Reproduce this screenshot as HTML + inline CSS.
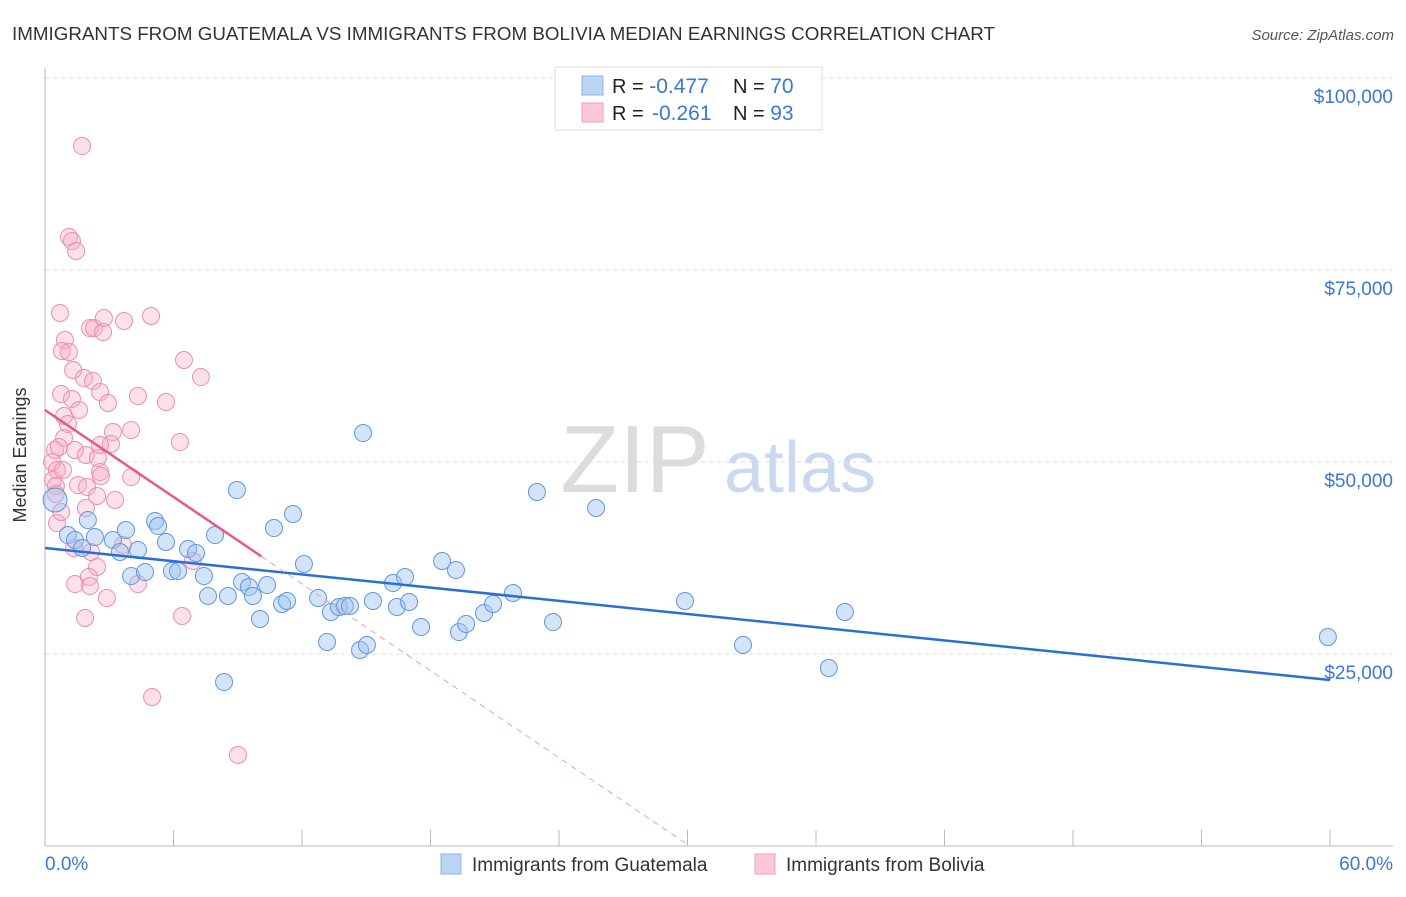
<!DOCTYPE html>
<html><head><meta charset="utf-8"><style>
body{margin:0;background:#fff;font-family:"Liberation Sans",sans-serif;}
svg text{font-family:"Liberation Sans",sans-serif;}
</style></head><body>
<svg id="chart" width="1406" height="892" viewBox="0 0 1406 892">
<text x="12" y="40" font-size="18.8" fill="#333">IMMIGRANTS FROM GUATEMALA VS IMMIGRANTS FROM BOLIVIA MEDIAN EARNINGS CORRELATION CHART</text>
<text x="1394" y="40" font-size="15" fill="#555" font-style="italic" text-anchor="end">Source: ZipAtlas.com</text>
<g>
<text x="635" y="492" font-size="96" fill="#dcdcdc" font-family="Liberation Serif" text-anchor="middle">ZIP</text>
<text x="800" y="492" font-size="72" fill="#c9daf0" text-anchor="middle">atlas</text>
</g>
<g id="grid"></g>
<g id="axes"></g>
<g id="pts"></g>
<g id="trends"></g>
<text x="26" y="455" font-size="18" fill="#333" text-anchor="middle" transform="rotate(-90 26 455)">Median Earnings</text>
<g>
<rect x="555" y="67" width="267" height="63" fill="#fff" stroke="#ddd"/>
<rect x="582" y="76" width="21" height="19" fill="#bcd5f5" stroke="#8db4e8"/>
<rect x="582" y="103" width="21" height="19" fill="#fcc8d8" stroke="#f0a0bb"/>
<text x="612" y="93" font-size="20" fill="#222">R = <tspan fill="#3a78d4" font-size="21">-0.477</tspan><tspan x="733">N = </tspan><tspan fill="#3a78d4" font-size="21">70</tspan></text>
<text x="612" y="120" font-size="20" fill="#222">R = <tspan x="652" fill="#3a78d4" font-size="21">-0.261</tspan><tspan x="733">N = </tspan><tspan fill="#3a78d4" font-size="21">93</tspan></text>
</g>
<g>
<rect x="441" y="854" width="20" height="20" fill="#bcd5f5" stroke="#8db4e8"/>
<text x="472" y="871" font-size="19" fill="#333">Immigrants from Guatemala</text>
<rect x="755" y="854" width="20" height="20" fill="#fcc8d8" stroke="#f0a0bb"/>
<text x="786" y="871" font-size="19" fill="#333">Immigrants from Bolivia</text>
</g>
</svg>
<script>
const yTicks=[25000,50000,75000,100000];
const yTickLabels=["$25,000","$50,000","$75,000","$100,000"];
const xTicks=[0,6,12,18,24,30,36,42,48,54,60];
const xEndLabels=["0.0%","60.0%"];
const guatX=[0.47,2.0,1.07,1.4,1.73,2.33,3.17,3.5,3.78,4.02,4.34,4.67,5.14,5.28,5.65,5.93,6.21,6.68,7.05,7.42,7.61,7.94,8.36,8.54,8.96,9.2,9.52,9.71,10.04,10.37,10.69,11.07,11.3,11.58,12.09,12.75,13.17,13.35,13.73,14.0,14.24,14.71,14.85,15.03,15.31,16.25,16.43,16.81,17.0,17.56,18.54,19.19,19.33,19.66,20.5,20.92,21.85,22.97,23.72,25.73,29.88,32.59,36.6,37.35,59.9];
const guatY=[45050,42440,40490,39840,38800,40230,39840,38280,41140,35150,38540,35670,42320,41660,39580,35800,35800,38670,38150,35150,32550,40490,21350,32550,46350,34370,33720,32550,29560,33980,41400,31510,31900,43230,36720,32290,26560,30470,31120,31250,31250,25520,53770,26170,31900,34240,31120,35020,31770,28510,37110,35930,27860,28900,30340,31510,32940,46090,29160,44010,31900,26170,23180,30470,27210];
const bolX=[1.73,1.12,1.26,1.45,0.70,0.93,2.1,2.29,2.75,2.71,3.69,4.95,6.49,7.28,0.79,1.12,1.31,1.82,2.24,0.75,1.26,2.57,2.94,1.59,0.89,1.07,4.34,5.65,3.17,4.02,6.3,0.89,1.4,1.91,0.47,0.33,0.56,2.47,3.08,0.37,0.51,1.54,2.57,2.61,4.02,0.51,1.96,2.43,3.27,0.56,1.91,1.35,2.15,2.43,2.05,1.4,2.1,2.89,1.87,4.34,3.64,6.91,6.4,5.0,9.01,0.75,0.65,0.84,2.57];
const bolY=[91140,79290,78770,77470,69400,65880,67440,67440,68750,66920,68360,69010,63280,61060,64450,64320,61980,60930,60540,58850,58200,59110,57680,56770,55990,54940,58590,57810,53900,54160,52600,53120,51560,50910,51560,50000,48960,50520,52340,47650,46870,47000,48700,48170,48040,45830,46740,45570,45050,42050,44010,38800,38280,36330,35020,34110,33850,32290,29690,34110,39190,37110,29950,19400,11850,43490,51950,48960,52210];
const guatTrend=[38800,21610];      // value at 0% and 60%
const bolTrend=[56770,-1886];       // intercept, slope per %
const NS="http://www.w3.org/2000/svg";
const X0=45,X1=1330,Y0=846,PX=192/25000;
const sx=v=>X0+(v/60)*(X1-X0);
const sy=v=>Y0-v*PX;
function mk(tag,attrs,parent){const e=document.createElementNS(NS,tag);for(const k in attrs)e.setAttribute(k,attrs[k]);parent.appendChild(e);return e;}
const grid=document.getElementById('grid'),axes=document.getElementById('axes'),pts=document.getElementById('pts'),tr=document.getElementById('trends');
yTicks.forEach((t,i)=>{
  const l=mk('line',{x1:X0,x2:1393,y1:sy(t),y2:sy(t),stroke:'#ddd','stroke-dasharray':'4,4'},grid);
  
  
  const tx=mk('text',{x:1393,y:sy(t)+25,'font-size':19,fill:'#3a78d4','text-anchor':'end'},axes);
  tx.textContent=yTickLabels[i];
  
  
});
const ax=mk('line',{x1:X0,x2:1393,y1:Y0,y2:Y0,stroke:'#bbb'},axes);


const ay=mk('line',{x1:X0,x2:X0,y1:68,y2:Y0,stroke:'#bbb'},axes);


xTicks.forEach(t=>{
  const l=mk('line',{x1:sx(t),x2:sx(t),y1:Y0-16,y2:Y0,stroke:'#bbb'},axes);
  
  
});
const xl=mk('text',{x:45,y:870,'font-size':19,fill:'#3a78d4'},axes);xl.textContent=xEndLabels[0];


const xr=mk('text',{x:1393,y:870,'font-size':19,fill:'#3a78d4','text-anchor':'end'},axes);xr.textContent=xEndLabels[1];


bolX.forEach((x,i)=>{
  const c=mk('circle',{cx:sx(x),cy:sy(bolY[i]),r:8.5,fill:'rgba(246,170,196,0.35)',stroke:'#ec8fae','stroke-width':1},pts);
  
  
});
guatX.forEach((x,i)=>{
  const c=mk('circle',{cx:sx(x),cy:sy(guatY[i]),r:i===0?12:8.5,fill:'rgba(160,196,240,0.45)',stroke:'#5f97de','stroke-width':1},pts);
  
  
});
const gl=mk('line',{x1:sx(0),y1:sy(guatTrend[0]),x2:sx(60),y2:sy(guatTrend[1]),stroke:'#2a6fd6','stroke-width':2.5},tr);


const bEnd=10.1,bZero=-bolTrend[0]/bolTrend[1];
const bl=mk('line',{x1:sx(0),y1:sy(bolTrend[0]),x2:sx(bEnd),y2:sy(bolTrend[0]+bolTrend[1]*bEnd),stroke:'#e55a8a','stroke-width':2.5},tr);


const bd=mk('line',{x1:sx(bEnd),y1:sy(bolTrend[0]+bolTrend[1]*bEnd),x2:sx(bZero),y2:sy(0),stroke:'#e8a0b8','stroke-width':1,'stroke-dasharray':'6,5'},tr);


</script>
</body></html>
